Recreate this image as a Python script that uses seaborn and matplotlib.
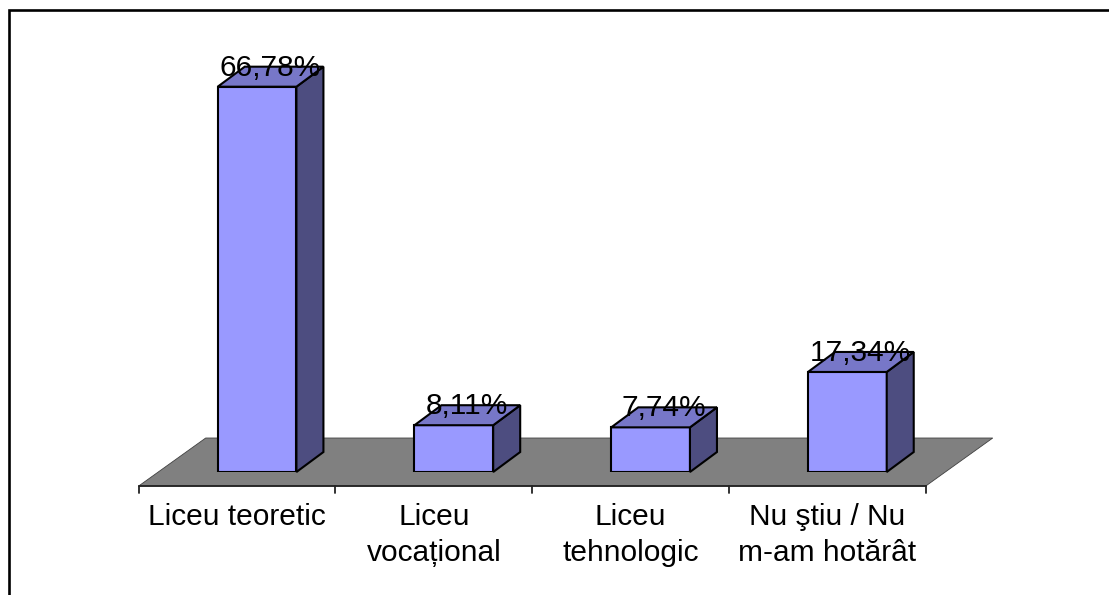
import pandas as pd
import seaborn as sns
import matplotlib.pyplot as plt
import matplotlib.transforms as mtransforms
from matplotlib.patches import Polygon, Rectangle

# chart data
categories = ['Liceu teoretic', 'Liceu\nvocațional', 'Liceu\ntehnologic', 'Nu ştiu / Nu\nm-am hotărât']
values = [66.78, 8.11, 7.74, 17.34]
value_labels = [f'{v:.2f}%'.replace('.', ',') for v in values]

FRONT = '#9999FF'
TOP = '#7777C8'
SIDE = '#4D4D80'
FLOOR = '#808080'
FS = 21.5

sns.set_style('white')
plt.rcParams['font.family'] = ['Liberation Sans', 'DejaVu Sans']
plt.rcParams['text.color'] = 'black'

fig = plt.figure(figsize=(11.09, 5.95), dpi=100)
ax = fig.add_axes([0.1431, 0.2067, 0.7097, 0.7758])
ax.patch.set_alpha(0)

df = pd.DataFrame({'cat': categories, 'pct': values})
sns.barplot(data=df, x='cat', y='pct', color=FRONT, saturation=1, width=0.4,
            edgecolor='black', linewidth=1.5, ax=ax, zorder=3)
ax.set_xlim(-0.5, 3.5)
ax.set_ylim(0, 80)
sns.despine(ax=ax, left=True, bottom=True)
ax.set_xticks([])
ax.set_yticks([])
ax.set_xlabel('')
ax.set_ylabel('')

# pixel offsets -> data units (for the fake 3D depth)
px_x = ax.bbox.width / 4.0
px_y = ax.bbox.height / 80.0

def shift(x, y, dx, dy):
    return (x + dx / px_x, y + dy / px_y)

# floor
floor = [shift(-0.5, 0, -20, -14), shift(3.5, 0, -20, -14),
         shift(3.5, 0, 47, 34), shift(-0.5, 0, 47, 34)]
ax.add_patch(Polygon(floor, closed=True, facecolor=FLOOR, edgecolor='#404040',
                     linewidth=0.6, clip_on=False, zorder=1))

# front axis line and ticks
a0 = shift(-0.5, 0, -20, -14)
a1 = shift(3.5, 0, -20, -14)
ax.plot([a0[0], a1[0]], [a0[1], a1[1]], color='#222222', lw=1.3, clip_on=False, zorder=2)
for b in [-0.5, 0.5, 1.5, 2.5, 3.5]:
    t0 = shift(b, 0, -20, -14)
    t1 = shift(b, 0, -20, -21)
    ax.plot([t0[0], t1[0]], [t0[1], t1[1]], color='#222222', lw=1.3, clip_on=False, zorder=2)

# side and top faces of the bars
bars = [p for p in list(ax.patches) if isinstance(p, Rectangle)]
for p, lab in zip(bars, value_labels):
    x0, w, h = p.get_x(), p.get_width(), p.get_height()
    side = [(x0 + w, 0), (x0 + w, h), shift(x0 + w, h, 27, 20), shift(x0 + w, 0, 27, 20)]
    top = [(x0, h), (x0 + w, h), shift(x0 + w, h, 27, 20), shift(x0, h, 27, 20)]
    ax.add_patch(Polygon(side, closed=True, facecolor=SIDE, edgecolor='black',
                         linewidth=1.5, clip_on=False, zorder=3))
    ax.add_patch(Polygon(top, closed=True, facecolor=TOP, edgecolor='black',
                         linewidth=1.5, clip_on=False, zorder=3))
    ax.annotate(lab, (x0 + w / 2, h), xytext=(13, 11), textcoords='offset pixels',
                ha='center', va='baseline', fontsize=FS, zorder=5, annotation_clip=False)

# category labels on the front plane
lab_tr = mtransforms.offset_copy(ax.get_xaxis_transform(), fig=fig, x=-20, y=-31, units='dots')
for i, c in enumerate(categories):
    ax.text(i, 0, c, transform=lab_tr, ha='center', va='top', fontsize=FS,
            multialignment='center', linespacing=1.37)

# chart area border (cut off at right and bottom)
fig.add_artist(Rectangle((8.5 / 1109, -0.1), 1.2, 1.1 - 10.5 / 595, transform=fig.transFigure,
                         fill=False, edgecolor='black', linewidth=1.9))

fig.savefig('out.png', dpi=100)
